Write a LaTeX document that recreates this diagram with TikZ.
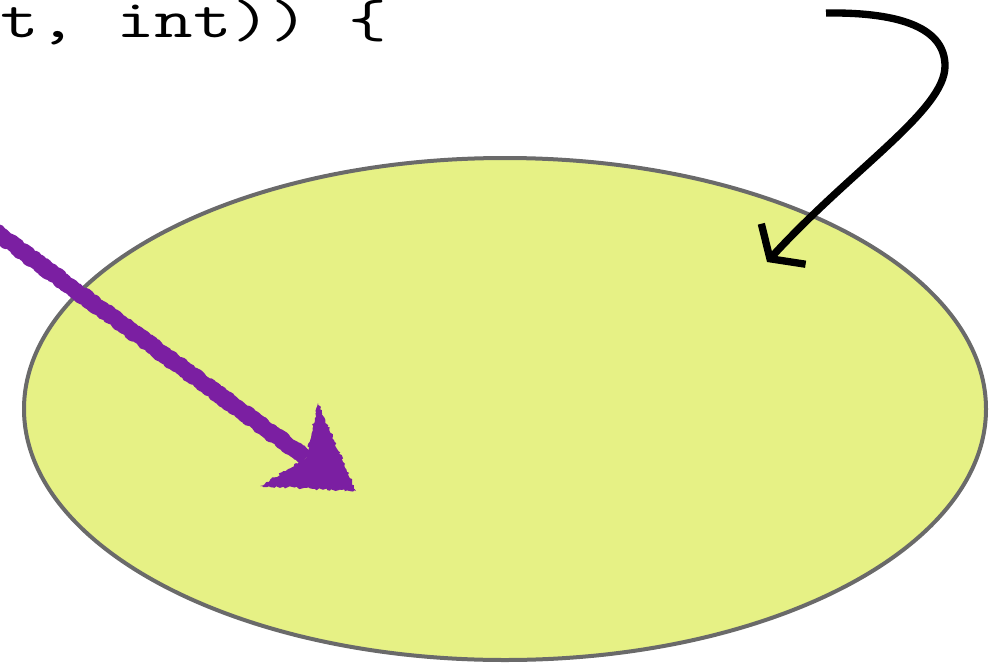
\documentclass[tikz,border=0pt]{standalone}
\usepackage{fontspec}
\newfontfamily\codefont[FakeStretch=1.39]{Latin Modern Mono}
\usetikzlibrary{shapes.geometric,arrows.meta,decorations.pathmorphing}

\definecolor{fieldfill}{HTML}{E6F185}
\definecolor{fieldline}{HTML}{6A6A6A}
\definecolor{crayonpurple}{HTML}{7B1FA2}

\begin{document}
\begin{tikzpicture}[
  x=0.75pt, y=-0.75pt,
  code/.style={font=\codefont\fontsize{40.5}{48}\selectfont, anchor=base west, inner sep=0pt},
  field/.style={ellipse, draw=fieldline, fill=fieldfill, line width=3pt,
                minimum width=721.5pt, minimum height=376.5pt, inner sep=0pt},
  pen/.style={line width=5.5pt, black, line cap=butt,
              -{Straight Barb[length=15pt, width=45pt]}},
  crayon/.style={crayonpurple, line join=round, decorate,
                 decoration={random steps, segment length=1.5pt, amplitude=1pt}},
]
\pgfmathsetseed{7}
\useasboundingbox (0,0) rectangle (996,664);
\clip (0,0) rectangle (996,664);

%% ---------- the set ----------
\node[field] (blob) at (505,409) {};

%% ---------- code line, cut at the left edge ----------
\node[code] (sig) at (0,37) {t, int)) \{};

%% ---------- purple crayon arrow ----------
\coordinate (smudge) at (-10,228);
\coordinate (neck)   at (306,458);
\coordinate (ptip)   at (356,491);
\coordinate (pwingA) at (318,403);
\coordinate (pwingB) at (260,486);

\draw[crayon, line width=12pt] (smudge) -- (neck);
\fill[crayon] (ptip) -- (pwingA) -- (neck) -- (pwingB) -- cycle;

%% ---------- black hook arrow ----------
\coordinate (hookstart) at (826,13);
\coordinate (hookbend)  at (945,66);
\coordinate (hooktip)   at (767,262);

\draw[pen] (hookstart) .. controls (905,12) and (945,30) .. (hookbend)
  .. controls (945,110) and (852,169) .. (hooktip);

\end{tikzpicture}
\end{document}
